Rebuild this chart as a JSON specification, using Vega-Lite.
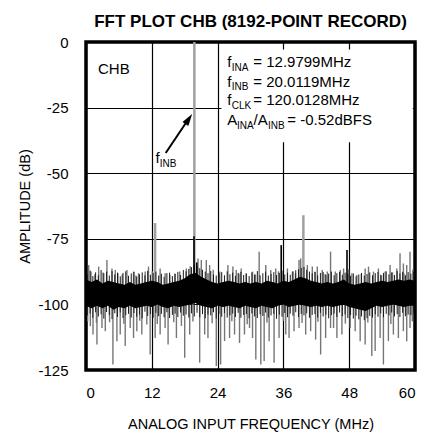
{
  "$schema": "https://vega.github.io/schema/vega-lite/v6.json",
  "width": 329,
  "height": 328,
  "autosize": "none",
  "padding": {"left": 86, "top": 42, "right": 6, "bottom": 62},
  "background": "white",
  "title": {"text": "FFT PLOT CHB (8192-POINT RECORD)", "fontSize": 17, "font": "Liberation Sans", "fontWeight": "bold", "color": "black", "anchor": "middle", "offset": 4},
  "config": {
    "font": "Liberation Sans",
    "view": {"stroke": "black", "strokeWidth": 3.5},
    "axis": {"grid": true, "gridColor": "black", "gridWidth": 1.2, "gridOpacity": 1, "domain": false, "ticks": false, "labelFontSize": 15, "labelColor": "black", "titleFontSize": 14.5, "titleFontWeight": "normal", "titleColor": "black", "labelExpr": "'' + datum.value"}
  },
  "datasets": {
    "spikes": [
      {"f":0.49,"v":-85},{"f":0.91,"v":-87.5},{"f":2.31,"v":-85.6},{"f":3.82,"v":-83.1},{"f":4.73,"v":-86.3},{"f":5.34,"v":-86.9},{"f":5.82,"v":-88.1},{"f":7.46,"v":-86.9},{"f":8.67,"v":-87.5},{"f":9.58,"v":-88.1},{"f":10.79,"v":-87.5},{"f":11.4,"v":-85.6},{"f":13.52,"v":-86.3},{"f":14.43,"v":-88.1},{"f":15.28,"v":-88.8},{"f":17.09,"v":-87.5},{"f":18.3,"v":-86.3},{"f":20.43,"v":-82.5},{"f":21.03,"v":-83.1},{"f":21.94,"v":-83.1},{"f":22.55,"v":-85},{"f":25.88,"v":-85},{"f":26.79,"v":-85.6},{"f":27.4,"v":-86.9},{"f":28.3,"v":-86.3},{"f":29.2,"v":-88.1},{"f":30.37,"v":-87.5},{"f":31.58,"v":-79.9},{"f":32.79,"v":-85},{"f":33.7,"v":-86.9},{"f":34.6,"v":-86.3},{"f":36.73,"v":-86.3},{"f":37.64,"v":-87.5},{"f":38.85,"v":-83.1},{"f":39.15,"v":-82.5},{"f":40.37,"v":-85},{"f":41.27,"v":-85.6},{"f":42.18,"v":-85.6},{"f":43.09,"v":-86.9},{"f":44.0,"v":-87.5},{"f":44.6,"v":-79.9},{"f":45.46,"v":-87.5},{"f":46.37,"v":-86.9},{"f":46.97,"v":-86.3},{"f":48.49,"v":-88.1},{"f":49.4,"v":-88.8},{"f":50.91,"v":-86.3},{"f":51.52,"v":-85.6},{"f":52.43,"v":-87.5},{"f":53.33,"v":-86.3},{"f":54.55,"v":-87.5},{"f":55.46,"v":-85},{"f":56.67,"v":-86.3},{"f":57.27,"v":-80.5},{"f":57.88,"v":-84.4},{"f":58.49,"v":-85},{"f":59.09,"v":-79.9},
      {"f":1.6,"v":-88.5},{"f":3.1,"v":-87.8},{"f":6.6,"v":-88.6},{"f":9.1,"v":-89},{"f":12.1,"v":-87.4},{"f":16.2,"v":-88.2},{"f":19.0,"v":-85.5},{"f":23.2,"v":-86.8},{"f":24.4,"v":-87.5},{"f":27.9,"v":-88.3},{"f":30.9,"v":-88.6},{"f":35.1,"v":-87.4},{"f":38.2,"v":-88.2},{"f":41.8,"v":-87.6},{"f":43.6,"v":-88.4},{"f":47.9,"v":-86.6},{"f":50.2,"v":-88.4},{"f":53.9,"v":-88.9},{"f":55.9,"v":-87.8},{"f":58.0,"v":-88.2},{"f":59.6,"v":-86.7},
      {"f":0.79,"v":-108.3},{"f":1.28,"v":-111.5},{"f":2.0,"v":-115.3},{"f":2.91,"v":-109},{"f":3.52,"v":-110.2},{"f":4.91,"v":-122.9},{"f":5.64,"v":-114},{"f":6.24,"v":-111.5},{"f":7.15,"v":-115.9},{"f":8.06,"v":-109},{"f":8.67,"v":-112.8},{"f":9.27,"v":-110.2},{"f":10.18,"v":-111.5},{"f":11.09,"v":-107.7},{"f":11.7,"v":-119.1},{"f":12.61,"v":-112.8},{"f":13.52,"v":-111.5},{"f":14.43,"v":-109},{"f":14.97,"v":-115.3},{"f":16.49,"v":-112.8},{"f":18.0,"v":-120.3},{"f":18.91,"v":-111.5},{"f":20.73,"v":-122.2},{"f":21.64,"v":-111.5},{"f":22.24,"v":-112.8},{"f":23.76,"v":-123.5},{"f":24.55,"v":-122.9},{"f":25.27,"v":-114},{"f":26.18,"v":-112.8},{"f":27.09,"v":-111.5},{"f":28.0,"v":-114.7},{"f":28.9,"v":-111.5},{"f":29.82,"v":-109},{"f":30.37,"v":-112.8},{"f":30.97,"v":-121},{"f":31.88,"v":-122.9},{"f":32.49,"v":-121.6},{"f":33.4,"v":-114},{"f":34.3,"v":-122.2},{"f":35.21,"v":-112.8},{"f":36.43,"v":-111.5},{"f":37.03,"v":-112.8},{"f":37.94,"v":-110.2},{"f":38.85,"v":-109},{"f":40.06,"v":-111.5},{"f":40.97,"v":-110.2},{"f":41.88,"v":-113.4},{"f":42.79,"v":-119.1},{"f":43.7,"v":-112.8},{"f":44.6,"v":-109},{"f":45.15,"v":-109},{"f":45.76,"v":-112.8},{"f":46.67,"v":-111.5},{"f":48.18,"v":-109},{"f":49.09,"v":-110.2},{"f":50.0,"v":-114},{"f":50.91,"v":-115.3},{"f":52.12,"v":-119.7},{"f":52.73,"v":-117.8},{"f":53.64,"v":-112.8},{"f":54.24,"v":-122.9},{"f":55.15,"v":-114},{"f":56.06,"v":-111.5},{"f":56.97,"v":-112.8},{"f":57.88,"v":-110.2},{"f":58.49,"v":-114},{"f":59.09,"v":-109},
      {"f":0.3,"v":-106.5},{"f":1.9,"v":-107},{"f":4.3,"v":-106.8},{"f":6.9,"v":-107.4},{"f":9.8,"v":-106.2},{"f":13.0,"v":-107.5},{"f":16.0,"v":-106.8},{"f":17.4,"v":-108.2},{"f":19.5,"v":-106.5},{"f":23.0,"v":-107.2},{"f":26.6,"v":-106.4},{"f":29.4,"v":-107.6},{"f":33.0,"v":-106.9},{"f":36.0,"v":-106.3},{"f":39.4,"v":-107.1},{"f":42.3,"v":-106.6},{"f":47.3,"v":-107.3},{"f":51.4,"v":-106.9},{"f":55.6,"v":-107.5},{"f":59.5,"v":-106.4}
    ],
    "mid": [
      {"f":0.25,"v":-88.4,"lo":-104.2},{"f":0.75,"v":-87.1,"lo":-103.5},{"f":1.25,"v":-89.2,"lo":-105.1},{"f":1.75,"v":-87.8,"lo":-103.0},{"f":2.25,"v":-88.9,"lo":-104.6},{"f":2.75,"v":-86.9,"lo":-103.8},{"f":3.25,"v":-88.1,"lo":-105.4},{"f":3.75,"v":-87.5,"lo":-102.9},{"f":4.25,"v":-89.0,"lo":-104.0},{"f":4.75,"v":-87.3,"lo":-105.6},
      {"f":5.25,"v":-88.6,"lo":-103.4},{"f":5.75,"v":-87.9,"lo":-104.8},{"f":6.25,"v":-89.3,"lo":-103.1},{"f":6.75,"v":-88.0,"lo":-105.2},{"f":7.25,"v":-87.4,"lo":-104.1},{"f":7.75,"v":-89.1,"lo":-103.6},{"f":8.25,"v":-88.2,"lo":-105.0},{"f":8.75,"v":-87.6,"lo":-103.3},{"f":9.25,"v":-89.4,"lo":-104.7},{"f":9.75,"v":-88.5,"lo":-103.9},
      {"f":10.25,"v":-87.8,"lo":-105.3},{"f":10.75,"v":-88.9,"lo":-102.8},{"f":11.25,"v":-87.2,"lo":-104.4},{"f":11.75,"v":-88.7,"lo":-103.7},{"f":12.25,"v":-88.0,"lo":-105.1},{"f":12.75,"v":-87.5,"lo":-103.2},{"f":13.25,"v":-89.0,"lo":-104.5},{"f":13.75,"v":-88.3,"lo":-103.6},{"f":14.25,"v":-89.5,"lo":-104.9},{"f":14.75,"v":-88.1,"lo":-103.0},
      {"f":15.25,"v":-87.9,"lo":-105.2},{"f":15.75,"v":-89.2,"lo":-104.0},{"f":16.25,"v":-88.4,"lo":-103.5},{"f":16.75,"v":-87.6,"lo":-104.8},{"f":17.25,"v":-88.8,"lo":-103.1},{"f":17.75,"v":-86.9,"lo":-104.3},{"f":18.25,"v":-87.4,"lo":-103.8},{"f":18.75,"v":-86.5,"lo":-105.0},{"f":19.25,"v":-85.8,"lo":-103.4},{"f":19.75,"v":-84.9,"lo":-104.6},
      {"f":20.25,"v":-85.6,"lo":-103.2},{"f":20.75,"v":-86.2,"lo":-104.9},{"f":21.25,"v":-86.8,"lo":-103.7},{"f":21.75,"v":-87.5,"lo":-105.3},{"f":22.25,"v":-88.1,"lo":-103.9},{"f":22.75,"v":-87.3,"lo":-104.2},{"f":23.25,"v":-88.6,"lo":-103.0},{"f":23.75,"v":-89.0,"lo":-105.4},{"f":24.25,"v":-88.2,"lo":-103.6},{"f":24.75,"v":-87.7,"lo":-104.7},
      {"f":25.25,"v":-88.9,"lo":-103.3},{"f":25.75,"v":-87.4,"lo":-105.0},{"f":26.25,"v":-88.5,"lo":-104.1},{"f":26.75,"v":-87.9,"lo":-103.5},{"f":27.25,"v":-89.1,"lo":-104.8},{"f":27.75,"v":-88.0,"lo":-103.2},{"f":28.25,"v":-87.6,"lo":-105.1},{"f":28.75,"v":-88.8,"lo":-104.0},{"f":29.25,"v":-88.3,"lo":-103.7},{"f":29.75,"v":-89.2,"lo":-105.3},
      {"f":30.25,"v":-87.8,"lo":-103.4},{"f":30.75,"v":-88.6,"lo":-104.6},{"f":31.25,"v":-87.3,"lo":-105.2},{"f":31.75,"v":-88.9,"lo":-103.8},{"f":32.25,"v":-88.1,"lo":-104.4},{"f":32.75,"v":-87.5,"lo":-103.1},{"f":33.25,"v":-89.0,"lo":-105.0},{"f":33.75,"v":-88.4,"lo":-104.2},{"f":34.25,"v":-87.7,"lo":-103.6},{"f":34.75,"v":-88.8,"lo":-105.5},
      {"f":35.25,"v":-88.0,"lo":-103.9},{"f":35.75,"v":-87.2,"lo":-104.7},{"f":36.25,"v":-88.6,"lo":-103.3},{"f":36.75,"v":-87.9,"lo":-104.9},{"f":37.25,"v":-88.7,"lo":-103.5},{"f":37.75,"v":-87.4,"lo":-104.3},{"f":38.25,"v":-87.0,"lo":-103.0},{"f":38.75,"v":-86.6,"lo":-104.8},{"f":39.25,"v":-86.1,"lo":-103.6},{"f":39.75,"v":-85.7,"lo":-104.2},
      {"f":40.25,"v":-86.8,"lo":-103.4},{"f":40.75,"v":-87.5,"lo":-105.1},{"f":41.25,"v":-88.2,"lo":-104.0},{"f":41.75,"v":-87.6,"lo":-103.7},{"f":42.25,"v":-88.9,"lo":-105.0},{"f":42.75,"v":-88.0,"lo":-103.2},{"f":43.25,"v":-87.7,"lo":-104.6},{"f":43.75,"v":-88.8,"lo":-103.9},{"f":44.25,"v":-88.3,"lo":-105.3},{"f":44.75,"v":-87.5,"lo":-104.1},
      {"f":45.25,"v":-88.9,"lo":-103.5},{"f":45.75,"v":-88.1,"lo":-104.8},{"f":46.25,"v":-87.6,"lo":-103.1},{"f":46.75,"v":-88.7,"lo":-104.5},{"f":47.25,"v":-87.9,"lo":-103.8},{"f":47.75,"v":-88.4,"lo":-105.2},{"f":48.25,"v":-89.1,"lo":-104.0},{"f":48.75,"v":-88.2,"lo":-105.4},{"f":49.25,"v":-89.3,"lo":-104.3},{"f":49.75,"v":-88.6,"lo":-105.7},
      {"f":50.25,"v":-88.0,"lo":-104.6},{"f":50.75,"v":-89.0,"lo":-106.0},{"f":51.25,"v":-88.4,"lo":-105.2},{"f":51.75,"v":-87.8,"lo":-104.4},{"f":52.25,"v":-88.9,"lo":-105.0},{"f":52.75,"v":-88.1,"lo":-103.8},{"f":53.25,"v":-87.6,"lo":-104.7},{"f":53.75,"v":-88.7,"lo":-103.4},{"f":54.25,"v":-88.0,"lo":-104.9},{"f":54.75,"v":-87.4,"lo":-103.6},
      {"f":55.25,"v":-88.5,"lo":-104.2},{"f":55.75,"v":-87.8,"lo":-103.1},{"f":56.25,"v":-88.8,"lo":-104.6},{"f":56.75,"v":-87.3,"lo":-103.7},{"f":57.25,"v":-88.2,"lo":-104.8},{"f":57.75,"v":-87.6,"lo":-103.2},{"f":58.25,"v":-88.9,"lo":-104.5},{"f":58.75,"v":-87.7,"lo":-103.9},{"f":59.25,"v":-88.3,"lo":-104.1},{"f":59.75,"v":-87.5,"lo":-103.3}
    ],
    "tones": [
      {"f":19.76,"v":0},{"f":12.6,"v":-69},{"f":39.64,"v":-66}
    ],
    "blackSpikes": [
      {"f":19.7,"v":-74},{"f":35.6,"v":-77.4},{"f":47.6,"v":-79.3},{"f":20.2,"v":-84}
    ],
    "core": [
      {"f":0,"v":-90.5,"lo":-100.5},{"f":1,"v":-91.5,"lo":-101.5},{"f":2,"v":-90.5,"lo":-100.5},{"f":3,"v":-92,"lo":-101.5},{"f":4,"v":-91,"lo":-100.5},{"f":5,"v":-91.5,"lo":-102},{"f":6,"v":-92,"lo":-101},{"f":7,"v":-92.5,"lo":-101.5},{"f":8,"v":-91.5,"lo":-100.5},{"f":9,"v":-92.5,"lo":-101.5},{"f":10,"v":-92,"lo":-101},{"f":11,"v":-91.5,"lo":-100.5},{"f":12,"v":-91,"lo":-101},{"f":13,"v":-91.5,"lo":-100},{"f":14,"v":-92.5,"lo":-101},{"f":15,"v":-92,"lo":-101.5},{"f":16,"v":-91.5,"lo":-100.5},{"f":17,"v":-91,"lo":-101},{"f":18,"v":-90,"lo":-100.5},{"f":19,"v":-88.5,"lo":-100},{"f":20,"v":-88,"lo":-99.5},{"f":21,"v":-89.5,"lo":-100.5},{"f":22,"v":-90.5,"lo":-101},{"f":23,"v":-91.5,"lo":-101.5},{"f":24,"v":-92,"lo":-100.5},{"f":25,"v":-91.5,"lo":-101},{"f":26,"v":-91,"lo":-100.5},{"f":27,"v":-91.5,"lo":-101},{"f":28,"v":-92,"lo":-101.5},{"f":29,"v":-91.5,"lo":-100.5},{"f":30,"v":-92,"lo":-101},{"f":31,"v":-91.5,"lo":-101.5},{"f":32,"v":-92,"lo":-100.5},{"f":33,"v":-91,"lo":-101},{"f":34,"v":-91.5,"lo":-101.5},{"f":35,"v":-92,"lo":-100.5},{"f":36,"v":-91,"lo":-100},{"f":37,"v":-91.5,"lo":-101},{"f":38,"v":-90.5,"lo":-100.5},{"f":39,"v":-89.5,"lo":-100},{"f":40,"v":-90,"lo":-100.5},{"f":41,"v":-91,"lo":-101},{"f":42,"v":-91.5,"lo":-100.5},{"f":43,"v":-92,"lo":-101},{"f":44,"v":-91.5,"lo":-100.5},{"f":45,"v":-92,"lo":-101},{"f":46,"v":-91.5,"lo":-100.5},{"f":47,"v":-90.5,"lo":-100},{"f":48,"v":-92,"lo":-101},{"f":49,"v":-92.5,"lo":-101.5},{"f":50,"v":-92,"lo":-102},{"f":51,"v":-91.5,"lo":-102.5},{"f":52,"v":-92,"lo":-101.5},{"f":53,"v":-91.5,"lo":-100.5},{"f":54,"v":-91,"lo":-101},{"f":55,"v":-91.5,"lo":-100.5},{"f":56,"v":-91,"lo":-100},{"f":57,"v":-90.5,"lo":-100.5},{"f":58,"v":-91,"lo":-101},{"f":59,"v":-90.5,"lo":-100.5},{"f":60,"v":-91,"lo":-100.5}
    ],
    "box": [{"f":24.7,"v":-2.9,"f2":59.6,"v2":-38.2}],
    "arrow": [{"f":14.54,"v":-42.3},{"f":18.33,"v":-30.5}],
    "arrowHead": [{"f":18.59,"v":-29.8}],
    "mainText": [
      {"f":2.19,"v":-12.2,"t":"CHB"},
      {"f":25.77,"v":-9.64,"t":"f"},{"f":30.51,"v":-9.64,"t":"= 12.9799MHz"},
      {"f":25.77,"v":-17.04,"t":"f"},{"f":30.51,"v":-17.04,"t":"= 20.0119MHz"},
      {"f":25.77,"v":-24.0,"t":"f"},{"f":30.51,"v":-24.0,"t":"= 120.0128MHz"},
      {"f":25.77,"v":-31.6,"t":"A"},{"f":30.55,"v":-31.6,"t":"/A"},{"f":36.71,"v":-31.6,"t":"= -0.52dBFS"},
      {"f":12.67,"v":-46.2,"t":"f"}
    ],
    "subText": [
      {"f":26.57,"v":-11.0,"t":"INA"},{"f":26.57,"v":-18.4,"t":"INB"},{"f":26.57,"v":-25.4,"t":"CLK"},
      {"f":27.55,"v":-33.0,"t":"INA"},{"f":33.2,"v":-33.0,"t":"INB"},{"f":13.45,"v":-47.5,"t":"INB"}
    ]
  },
  "encoding": {
    "x": {"field": "f", "type": "quantitative", "scale": {"domain": [0, 60], "nice": false, "zero": false}, "axis": {"values": [0, 12, 24, 36, 48, 60], "title": "ANALOG INPUT FREQUENCY (MHz)", "labelPadding": 15, "titlePadding": 17}},
    "y": {"field": "v", "type": "quantitative", "scale": {"domain": [-125, 0], "nice": false, "zero": false}, "axis": {"values": [-125, -100, -75, -50, -25, 0], "title": "AMPLITUDE (dB)", "labelPadding": 18, "titlePadding": 5}}
  },
  "layer": [
    {"data": {"name": "box"}, "mark": {"type": "rect", "fill": "white"}, "encoding": {"x2": {"field": "f2"}, "y2": {"field": "v2"}}},
    {"data": {"name": "spikes"}, "mark": {"type": "rule", "color": "#767676", "strokeWidth": 1.4}, "encoding": {"y2": {"datum": -96}}},
    {"data": {"name": "tones"}, "mark": {"type": "rule", "color": "#a0a0a0", "strokeWidth": 2.5}, "encoding": {"y2": {"datum": -96}}},
    {"data": {"name": "mid"}, "mark": {"type": "rule", "color": "#1a1a1a", "strokeWidth": 1}, "encoding": {"y2": {"field": "lo"}}},
    {"data": {"name": "core"}, "mark": {"type": "area", "color": "black", "opacity": 1}, "encoding": {"y2": {"field": "lo"}}},
    {"data": {"name": "blackSpikes"}, "mark": {"type": "rule", "color": "black", "strokeWidth": 1.6}, "encoding": {"y2": {"datum": -96}}},
    {"data": {"name": "arrow"}, "mark": {"type": "line", "color": "black", "strokeWidth": 2}, "encoding": {}},
    {"data": {"name": "arrowHead"}, "mark": {"type": "point", "shape": "M0,-1L0.47,0.6L-0.47,0.6Z", "filled": true, "color": "black", "opacity": 1, "size": 225, "angle": 34}},
    {"data": {"name": "mainText"}, "mark": {"type": "text", "align": "left", "baseline": "alphabetic", "fontSize": 15, "color": "black"}, "encoding": {"text": {"field": "t"}}},
    {"data": {"name": "subText"}, "mark": {"type": "text", "align": "left", "baseline": "alphabetic", "fontSize": 10, "color": "black"}, "encoding": {"text": {"field": "t"}}}
  ]
}
